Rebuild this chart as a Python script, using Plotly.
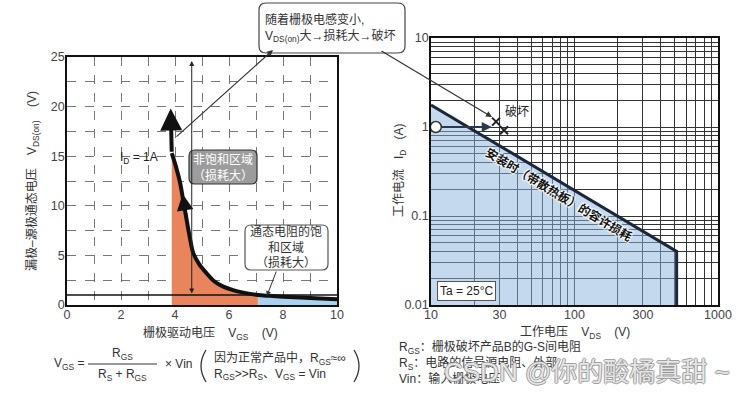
import math
import plotly.graph_objects as go

W, H = 745, 393
FONT = "Liberation Sans, Arial, Noto Sans CJK SC, sans-serif"

# ---------------- data: left chart (V_GS vs V_DS(on), I_D = 1A) ----------------
vgs_curve = [3.88, 4.05, 4.19, 4.30, 4.43, 4.55, 4.68, 4.90, 5.17, 5.45, 5.79, 6.15, 6.53, 7.07, 7.50, 8.00, 9.00, 10.0]
vds_curve = [15.3, 13.8, 12.3, 10.6, 8.6, 6.8, 5.2, 4.1, 3.2, 2.4, 1.85, 1.5, 1.25, 1.0, 0.92, 0.84, 0.70, 0.57]
split_vgs = 7.07          # boundary between unsaturated / saturated region
arrow_top = (3.84, 19.8)  # thick arrow tip above curve
sat_level = 1.0           # V_DS(on) at saturation
left_xticks = [0, 1, 2, 3, 4, 5, 6, 7, 8, 9, 10]
left_xlabels = ["0", "", "2", "", "4", "", "6", "", "8", "", "10"]
left_yticks = [0, 2.5, 5, 7.5, 10, 12.5, 15, 17.5, 20, 22.5, 25]
left_ylabels = ["0", "", "5", "", "10", "", "15", "", "20", "", "25"]

# ---------------- data: right chart (safe operating area) ----------------
soa_vds = [10, 515, 515]
soa_id = [1.77, 0.04, 0.01]
op_point_vds = [10.8]
op_point_id = [1.0]
break_vds = [28.4, 32.3]
break_id = [1.15, 0.92]
right_xticks = [10, 20, 30, 40, 50, 60, 70, 80, 90, 100, 200, 300, 400, 500, 600, 700, 800, 900, 1000]
right_xlabels = ["10", "", "30", "", "", "", "", "", "", "100", "", "300", "", "", "", "", "", "", "1000"]
right_yticks = [0.01, 0.02, 0.03, 0.04, 0.05, 0.06, 0.07, 0.08, 0.09, 0.1, 0.2, 0.3, 0.4, 0.5, 0.6, 0.7, 0.8, 0.9,
                1, 2, 3, 4, 5, 6, 7, 8, 9, 10]
right_ylabels = ["0.01"] + [""] * 8 + ["0.1"] + [""] * 8 + ["1"] + [""] * 8 + ["10"]


def px(x, y):
    return x / W, 1 - y / H


def P(x, y):
    a, b = px(x, y)
    return f"{a:.5f},{b:.5f}"


def rbox(x0, y0, x1, y1, r=6, fill="white", line="#444", width=1.2):
    path = (f"M {P(x0 + r, y0)} L {P(x1 - r, y0)} Q {P(x1, y0)} {P(x1, y0 + r)} "
            f"L {P(x1, y1 - r)} Q {P(x1, y1)} {P(x1 - r, y1)} L {P(x0 + r, y1)} "
            f"Q {P(x0, y1)} {P(x0, y1 - r)} L {P(x0, y0 + r)} Q {P(x0, y0)} {P(x0 + r, y0)} Z")
    return dict(type="path", xref="paper", yref="paper", path=path,
                fillcolor=fill, line=dict(color=line, width=width), layer="above")


def ptext(x, y, text, size=12, color="#333", xanchor="center", angle=0, shadow=None, **kw):
    a, b = px(x, y)
    font = dict(size=size, color=color, family=FONT)
    if shadow:
        font["shadow"] = shadow
    return dict(x=a, y=b, xref="paper", yref="paper", text=text, showarrow=False,
                xanchor=xanchor, yanchor="middle", textangle=angle, font=font, **kw)


fig = go.Figure()

i_split = vgs_curve.index(split_vgs)
fig.add_trace(go.Scatter(x=vgs_curve[:i_split + 1], y=vds_curve[:i_split + 1], fill="tozeroy",
                         fillcolor="#e8855c", line=dict(width=0), mode="lines", hoverinfo="skip",
                         xaxis="x", yaxis="y"))
fig.add_trace(go.Scatter(x=vgs_curve[i_split:], y=vds_curve[i_split:], fill="tozeroy",
                         fillcolor="#a9d2ee", line=dict(width=0), mode="lines", hoverinfo="skip",
                         xaxis="x", yaxis="y"))
fig.add_trace(go.Scatter(x=[0, 10], y=[sat_level, sat_level], mode="lines",
                         line=dict(color="#111", width=1.5), xaxis="x", yaxis="y"))
fig.add_trace(go.Scatter(x=vgs_curve, y=vds_curve, mode="lines", line=dict(color="#111", width=4, shape="spline"),
                         xaxis="x", yaxis="y"))

fig.add_trace(go.Scatter(x=soa_vds + [soa_vds[0]], y=soa_id + [soa_id[-1]], fill="toself",
                         fillcolor="rgba(140,180,222,0.5)", line=dict(width=0), mode="lines",
                         hoverinfo="skip", xaxis="x2", yaxis="y2"))
fig.add_trace(go.Scatter(x=soa_vds, y=soa_id, mode="lines", line=dict(color="#1b2638", width=3),
                         xaxis="x2", yaxis="y2"))
fig.add_trace(go.Scatter(x=break_vds, y=break_id, mode="markers",
                         marker=dict(symbol="x-thin", size=8, line=dict(color="#222", width=2)),
                         xaxis="x2", yaxis="y2"))
fig.add_trace(go.Scatter(x=op_point_vds, y=op_point_id, mode="markers",
                         marker=dict(symbol="circle", size=11, color="white", line=dict(color="#333", width=1.5)),
                         xaxis="x2", yaxis="y2"))

axis_common = dict(showline=True, mirror=True, linecolor="#111", linewidth=1.5, ticks="", automargin=False,
                   tickfont=dict(size=12.5, color="#444", family=FONT), zeroline=False)

fig.update_layout(
    width=W, height=H, margin=dict(l=0, r=0, t=0, b=0, pad=0), autosize=False,
    paper_bgcolor="white", plot_bgcolor="white", showlegend=False,
    xaxis=dict(domain=[67 / W, 337 / W], range=[0, 10], tickvals=left_xticks, ticktext=left_xlabels,
               showgrid=True, gridcolor="#777", griddash="dash", gridwidth=1, anchor="y",
               ticklabelstandoff=-3, **axis_common),
    yaxis=dict(domain=[1 - 305 / H, 1 - 57 / H], range=[0, 25], tickvals=left_yticks, ticktext=left_ylabels,
               showgrid=True, gridcolor="#777", griddash="dash", gridwidth=1, anchor="x",
               ticklabelstandoff=-2, **axis_common),
    xaxis2=dict(domain=[431 / W, 718 / W], type="log", range=[1, 3], tickvals=right_xticks,
                ticktext=right_xlabels, showgrid=True, gridcolor="#333", gridwidth=1, anchor="y2",
                ticklabelstandoff=-3, **axis_common),
    yaxis2=dict(domain=[1 - 305 / H, 1 - 38 / H], type="log", range=[-2, 1], tickvals=right_yticks,
                ticktext=right_ylabels, showgrid=True, gridcolor="#333", gridwidth=1, anchor="x2",
                ticklabelstandoff=-2, **axis_common),
)

shapes = []
anns = []

shapes.append(rbox(259, 3, 405, 53, r=7, fill="white", line="#444"))
shapes.append(rbox(189, 150, 257, 184, r=6, fill="#9c9c9c", line="#333"))
shapes.append(rbox(245, 225, 328, 270, r=6, fill="white", line="#555"))

anns.append(dict(x=arrow_top[0], y=arrow_top[1], ax=vgs_curve[0], ay=vds_curve[0], xref="x", yref="y",
                 axref="x", ayref="y", showarrow=True, arrowhead=2, arrowsize=1.1, arrowwidth=4,
                 arrowcolor="#111", text=""))
anns.append(dict(x=vgs_curve[3] - 0.02, y=vds_curve[3] + 0.6, ax=vgs_curve[4], ay=vds_curve[4], xref="x", yref="y",
                 axref="x", ayref="y", showarrow=True, arrowhead=2, arrowsize=1.1, arrowwidth=3,
                 arrowcolor="#111", text=""))
anns.append(dict(x=4.62, y=24.6, ax=4.62, ay=sat_level, xref="x", yref="y", axref="x", ayref="y",
                 showarrow=True, arrowhead=2, arrowside="end+start", arrowsize=1, arrowwidth=1,
                 arrowcolor="#222", text=""))
anns.append(dict(x=2.65, y=14.8, xref="x", yref="y", text="I<sub>D</sub> = 1A", showarrow=False,
                 font=dict(size=12, color="#222", family=FONT)))
anns.append(ptext(223, 167, "非饱和区域<br>（损耗大）", size=12, color="white"))
anns.append(ptext(286, 247, "通态电阻的饱<br>和区域<br>（损耗大）", size=12, color="#333"))
anns.append(dict(x=7.4, y=0.9, xref="x", yref="y", ax=10, ay=-26, axref="pixel", ayref="pixel",
                 showarrow=True, arrowhead=2, arrowsize=1, arrowwidth=1, arrowcolor="#333", text=""))
anns.append(ptext(263, 28, "随着栅极电感变小,<br>V<sub>DS(on)</sub>大→损耗大→破坏", size=12, color="#333",
                  xanchor="left", align="left"))
ha, hb = px(273, 50)
anns.append(dict(x=ha, y=hb, xref="paper", yref="paper", ax=175 - 273, ay=138 - 50, showarrow=True,
                 arrowhead=2, arrowsize=1, arrowwidth=1.2, arrowcolor="#333", text=""))
ha, hb = px(492, 117)
anns.append(dict(x=ha, y=hb, xref="paper", yref="paper", ax=380 - 492, ay=50 - 117, showarrow=True,
                 arrowhead=2, arrowsize=1, arrowwidth=1.2, arrowcolor="#333", text=""))

anns.append(dict(x=math.log10(26.5), y=math.log10(op_point_id[0]), ax=math.log10(op_point_vds[0]) + 0.03,
                 ay=math.log10(op_point_id[0]), xref="x2", yref="y2", axref="x2", ayref="y2",
                 showarrow=True, arrowhead=2, arrowsize=1, arrowwidth=2, arrowcolor="#2a3a50", text=""))
anns.append(dict(x=math.log10(40), y=math.log10(1.49), xref="x2", yref="y2", text="破坏", showarrow=False,
                 font=dict(size=12, color="#222", family=FONT)))
halo = "1px 1px 1px white, -1px -1px 1px white, 1px -1px 1px white, -1px 1px 1px white"
anns.append(dict(x=math.log10(78), y=math.log10(0.175), xref="x2", yref="y2", text="安装时（带散热板）的容许损耗",
                 showarrow=False, textangle=31,
                 font=dict(size=12, color="#111", family=FONT, weight="bold", shadow=halo)))
anns.append(dict(x=math.log10(17.8), y=math.log10(0.0143), xref="x2", yref="y2", text="Ta = 25°C",
                 showarrow=False, bgcolor="white", bordercolor="#555", borderwidth=1, borderpad=2,
                 font=dict(size=12, color="#222", family=FONT)))

NB = "\u00a0"
anns.append(ptext(210, 333, f"栅极驱动电压{NB*4}V<sub>GS</sub>{NB*4}(V)", size=12, color="#333"))
anns.append(ptext(33, 181, f"漏极–源极通态电压{NB*4}V<sub>DS(on)</sub>{NB*4}(V)", size=12, color="#333", angle=-90))
anns.append(ptext(575, 333, f"工作电压{NB*4}V<sub>DS</sub>{NB*4}(V)", size=12, color="#333"))
anns.append(ptext(400, 171, f"工作电流{NB*3}I<sub>D</sub>{NB*3}(A)", size=12, color="#333", angle=-90))

anns.append(ptext(86, 364, "V<sub>GS</sub> =", size=12, color="#333", xanchor="right"))
anns.append(ptext(122, 354, "R<sub>GS</sub>", size=12, color="#333"))
anns.append(ptext(122, 375, "R<sub>S</sub> + R<sub>GS</sub>", size=12, color="#333"))
a0, b0 = px(88, 364)
a1, b1 = px(157, 364)
shapes.append(dict(type="line", xref="paper", yref="paper", x0=a0, y0=b0, x1=a1, y1=b1,
                   line=dict(color="#333", width=1)))
anns.append(ptext(163, 364, "× Vin", size=12, color="#333", xanchor="left"))
anns.append(ptext(212, 366, "因为正常产品中，R<sub>GS</sub>≈∞<br>R<sub>GS</sub>>>R<sub>S</sub>、V<sub>GS</sub> = Vin",
                  size=12, color="#333", xanchor="left", align="left"))
shapes.append(dict(type="path", xref="paper", yref="paper",
                   path=f"M {P(206, 350)} Q {P(196, 366)} {P(206, 382)}", line=dict(color="#333", width=1.3)))
shapes.append(dict(type="path", xref="paper", yref="paper",
                   path=f"M {P(354, 350)} Q {P(364, 366)} {P(354, 382)}", line=dict(color="#333", width=1.3)))

anns.append(ptext(397, 347, "R<sub>GS</sub>：栅极破坏产品B的G-S间电阻", size=12, color="#333", xanchor="left"))
anns.append(ptext(397, 363, "R<sub>S</sub>：电路的信号源电阻、外部", size=12, color="#333", xanchor="left"))
anns.append(ptext(397, 378, "Vin：输入栅极电压", size=12, color="#333", xanchor="left"))
outline = "1px 0px 0px #8a8a8a, -1px 0px 0px #8a8a8a, 0px 1px 0px #8a8a8a, 0px -1px 0px #8a8a8a"
anns.append(ptext(442, 372, "CSDN @你的酸橘真甜 ~", size=26, color="rgba(255,255,255,0.8)", xanchor="left",
                  shadow=outline))

fig.update_layout(shapes=shapes, annotations=anns)
fig.write_html("out.html", config={"displayModeBar": False},
               post_script="document.body.style.margin='0px';document.body.style.padding='0px';")
